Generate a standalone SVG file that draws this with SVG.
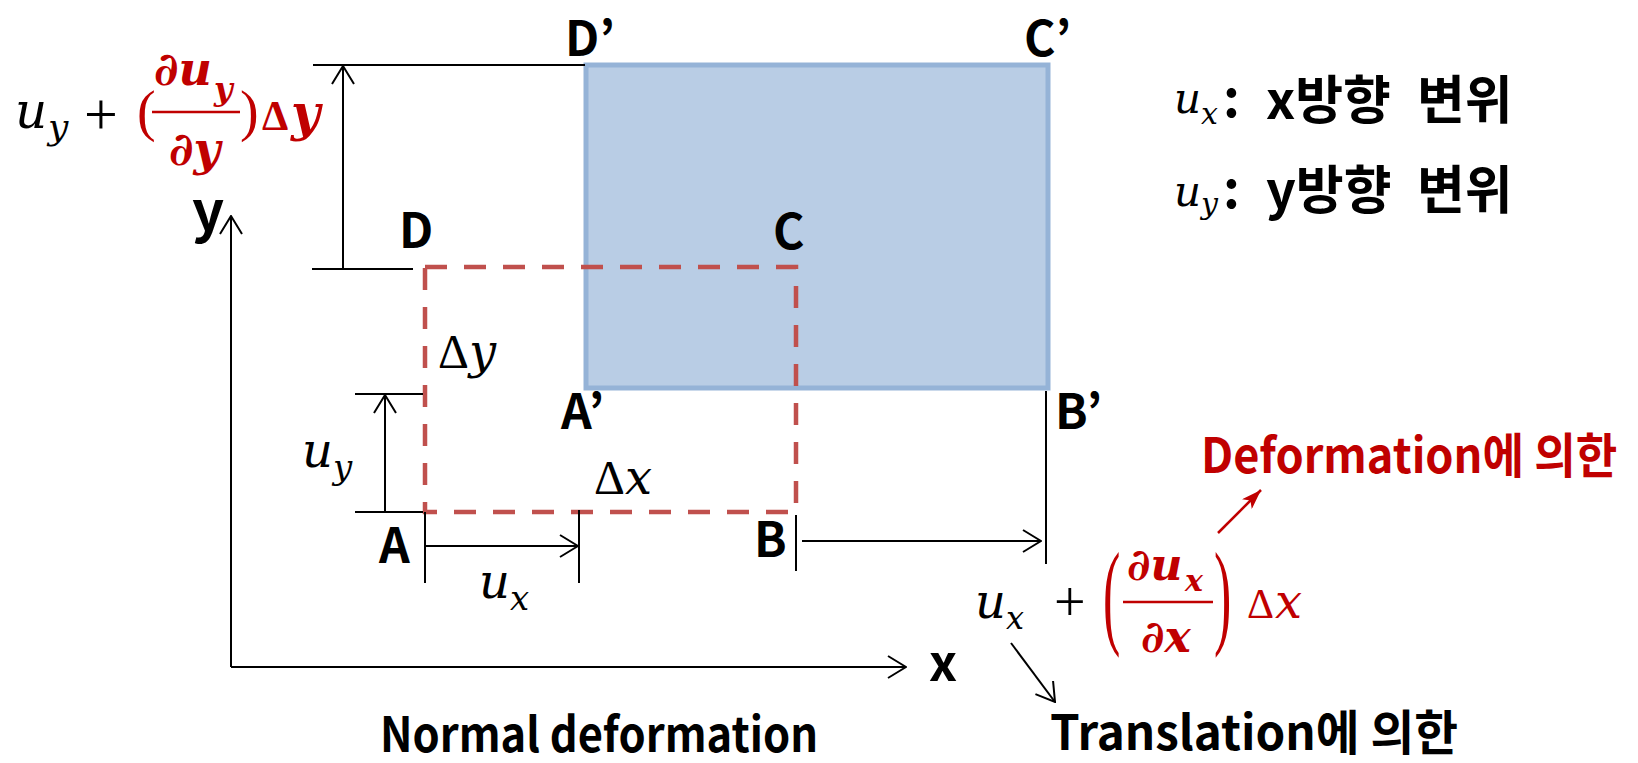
<svg xmlns="http://www.w3.org/2000/svg" width="1638" height="763" viewBox="0 0 1638 763">
<defs>
<style>
.lbl{font-family:"Noto Sans CJK KR","Noto Sans",sans-serif;font-weight:700;font-size:48px;fill:#000}
.m{font-family:"DejaVu Serif",serif;font-style:italic;font-size:48px;fill:#000}
.mb{font-family:"DejaVu Serif",serif;font-style:italic;font-weight:700;font-size:44px;fill:#c00000}
.up{font-family:"Liberation Serif","DejaVu Serif",serif;font-style:normal}
.red{fill:#c00000}
.ln{stroke:#000;stroke-width:2;fill:none}
</style>
<marker id="ah" viewBox="0 0 20 24" refX="19" refY="12" markerWidth="20" markerHeight="24" markerUnits="userSpaceOnUse" orient="auto">
<path d="M1,1 L19,12 L1,23" fill="none" stroke="#000" stroke-width="2"/>
</marker>
<marker id="ahr" viewBox="0 0 20 14" refX="20" refY="7" markerWidth="20" markerHeight="14" markerUnits="userSpaceOnUse" orient="auto">
<path d="M0,0 L20,7 L0,14 L5,7 Z" fill="#c00000"/>
</marker>
</defs>

<g id="deformed-rect">
<rect x="586" y="65" width="462" height="323" fill="#b9cde5" stroke="#95b3d7" stroke-width="5"/>
</g>
<g id="original-rect">
<rect x="425" y="267" width="371" height="245" fill="none" stroke="#c0504d" stroke-width="4.5" stroke-dasharray="22 17"/>
</g>

<g id="connectors">
<line class="ln" x1="231" y1="667" x2="231" y2="216" marker-end="url(#ah)"/>
<line class="ln" x1="231" y1="667" x2="906" y2="667" marker-end="url(#ah)"/>
<line class="ln" x1="313" y1="65" x2="585" y2="65"/>
<line class="ln" x1="312" y1="269" x2="413" y2="269"/>
<line class="ln" x1="343" y1="268" x2="343" y2="66" marker-end="url(#ah)"/>
<line class="ln" x1="355" y1="394" x2="423" y2="394"/>
<line class="ln" x1="355" y1="512" x2="423" y2="512"/>
<line class="ln" x1="385" y1="512" x2="385" y2="395" marker-end="url(#ah)"/>
<line class="ln" x1="425" y1="512" x2="425" y2="583"/>
<line class="ln" x1="579" y1="510" x2="579" y2="583"/>
<line class="ln" x1="425" y1="546" x2="578" y2="546" marker-end="url(#ah)"/>
<line class="ln" x1="796" y1="515" x2="796" y2="571"/>
<line class="ln" x1="1046" y1="391" x2="1046" y2="564"/>
<line class="ln" x1="802" y1="541" x2="1041" y2="541" marker-end="url(#ah)"/>
<line x1="1218" y1="533" x2="1261" y2="490" stroke="#c00000" stroke-width="2.5" marker-end="url(#ahr)"/>
<line class="ln" x1="1011" y1="643" x2="1055" y2="702" marker-end="url(#ah)"/>
<line x1="152" y1="112" x2="240" y2="112" stroke="#c00000" stroke-width="2.5"/>
<line x1="1123" y1="602" x2="1213" y2="602" stroke="#c00000" stroke-width="2.5"/>
</g>

<g id="labels">
<text class="lbl" x="565" y="56">D’</text>
<text class="lbl" x="1024" y="56">C’</text>
<text class="lbl" x="399" y="248">D</text>
<text class="lbl" x="773" y="249">C</text>
<text class="lbl" x="561" y="429">A’</text>
<text class="lbl" x="1055" y="429">B’</text>
<text class="lbl" x="379" y="563">A</text>
<text class="lbl" x="754" y="557">B</text>
<text class="lbl" x="192" y="231" style="font-size:56px">y</text>
<text class="lbl" x="929" y="681" style="font-size:50px">x</text>
<text class="lbl" x="380" y="752" textLength="438" lengthAdjust="spacingAndGlyphs">Normal deformation</text>
<text class="lbl" x="1050" y="750" textLength="408" lengthAdjust="spacingAndGlyphs">Translation에 의한</text>
<text class="lbl red" transform="translate(1201,473) scale(0.94,1)" x="0" y="0">Deformation에 의한</text>
</g>

<g id="legend">
<text class="m" x="1174" y="113" style="font-size:42px">u</text>
<text class="m" x="1201" y="124" style="font-size:30px">x</text>
<text class="lbl" x="1223" y="117" style="font-size:52px">:</text>
<text class="lbl" x="1266" y="119" style="font-size:52px">x방향</text>
<text class="lbl" x="1417" y="119" style="font-size:52px">변위</text>
<text class="m" x="1174" y="206" style="font-size:42px">u</text>
<text class="m" x="1201" y="214" style="font-size:30px">y</text>
<text class="lbl" x="1223" y="208" style="font-size:52px">:</text>
<text class="lbl" x="1266" y="209" style="font-size:52px">y방향</text>
<text class="lbl" x="1417" y="209" style="font-size:52px">변위</text>
</g>

<g id="math-labels">
<text class="m" x="438" y="368"><tspan class="up">Δ</tspan>y</text>
<text class="m" x="594" y="494"><tspan class="up">Δ</tspan>x</text>
<text class="m" x="302" y="467">u</text>
<text class="m" x="333" y="479" style="font-size:34px">y</text>
<text class="m" x="479" y="598">u</text>
<text class="m" x="510" y="610" style="font-size:34px">x</text>
</g>

<g id="formula-y">
<text class="m" x="15" y="128" style="font-size:50px">u</text>
<text class="m" x="48" y="139" style="font-size:36px">y</text>
<text class="up" x="84" y="134" style="font-size:60px">+</text>
<text class="up red" x="137" y="130" style="font-size:56px">(</text>
<text class="mb" x="154" y="85" style="font-size:46px">∂u</text>
<text class="mb" x="214" y="100" style="font-size:32px">y</text>
<text class="mb" x="169" y="165" style="font-size:46px">∂y</text>
<text class="up red" x="240" y="130" style="font-size:56px">)</text>
<text class="up red" x="262" y="130" style="font-size:42px;font-weight:700">Δ</text>
<text class="mb" x="291" y="130" style="font-size:50px">y</text>
</g>

<g id="formula-x">
<text class="m" x="975" y="618">u</text>
<text class="m" x="1006" y="629" style="font-size:32px">x</text>
<text class="up" x="1054" y="621" style="font-size:56px">+</text>
<text class="up red" transform="translate(1103,653) scale(1,2.25)" x="0" y="-9" style="font-size:52px">(</text>
<text class="mb" x="1127" y="580">∂u</text>
<text class="mb" x="1185" y="591" style="font-size:30px">x</text>
<text class="mb" x="1141" y="652">∂x</text>
<text class="up red" transform="translate(1214,653) scale(1,2.25)" x="0" y="-9" style="font-size:52px">)</text>
<text class="up red" x="1247" y="618" style="font-size:42px">Δ</text>
<text class="m red" x="1275" y="618" style="font-size:48px">x</text>
</g>
</svg>
